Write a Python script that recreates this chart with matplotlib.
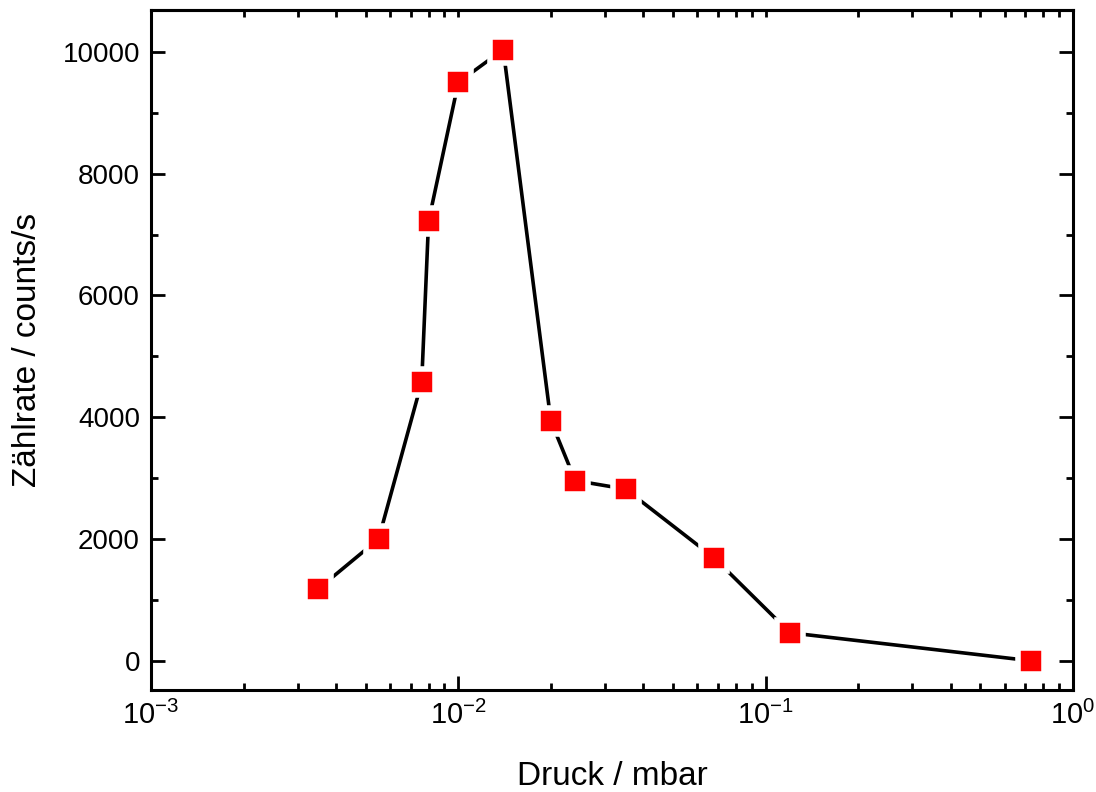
import matplotlib.pyplot as plt
from matplotlib.ticker import MultipleLocator, LogLocator, NullFormatter

plt.rcParams['font.family'] = ['Liberation Sans', 'DejaVu Sans']
plt.rcParams['mathtext.fontset'] = 'custom'
plt.rcParams['mathtext.rm'] = 'Liberation Sans'
plt.rcParams['mathtext.it'] = 'Liberation Sans'
plt.rcParams['axes.unicode_minus'] = False

# Messwerte
druck = [0.0035, 0.0055, 0.0076, 0.008, 0.01, 0.014, 0.02, 0.024, 0.035, 0.068, 0.12, 0.73]
zaehlrate = [1180, 2000, 4580, 7220, 9500, 10040, 3940, 2960, 2820, 1690, 460, 0]

fig = plt.figure(figsize=(10.96, 7.92), dpi=100)
ax = fig.add_axes([0.1378, 0.1288, 0.8412, 0.8586])

ax.plot(druck, zaehlrate, color='black', lw=2.6, marker='s', ms=18.5,
        mfc='#ff0000', mec='white', mew=4, zorder=3)

ax.set_xscale('log')
ax.set_xlim(1e-3, 1)
ax.set_ylim(-480, 10690)

ax.yaxis.set_major_locator(MultipleLocator(2000))
ax.yaxis.set_minor_locator(MultipleLocator(1000))
ax.xaxis.set_major_locator(LogLocator(base=10))
ax.xaxis.set_minor_locator(LogLocator(base=10, subs=range(2, 10)))
ax.xaxis.set_minor_formatter(NullFormatter())

for s in ax.spines.values():
    s.set_linewidth(2.2)

ax.tick_params(which='both', direction='in', width=2, labelsize=20,
               left=True, right=True, bottom=True, top=False)
ax.tick_params(which='major', length=10, pad=8)
ax.tick_params(axis='x', which='major', labelsize=21)
ax.tick_params(which='minor', length=5)

# obere Achse: nur kurze Striche
top = ax.secondary_xaxis('top')
top.xaxis.set_major_locator(LogLocator(base=10))
top.xaxis.set_minor_locator(LogLocator(base=10, subs=range(2, 10)))
top.tick_params(which='both', direction='in', length=5, width=2,
                labelbottom=False, labeltop=False)
top.spines['top'].set_linewidth(2.2)

ax.set_xlabel('Druck / mbar', fontsize=24, labelpad=22)
ax.set_ylabel('Zählrate / counts/s', fontsize=24, labelpad=14)

fig.savefig('out.png', dpi=100)
